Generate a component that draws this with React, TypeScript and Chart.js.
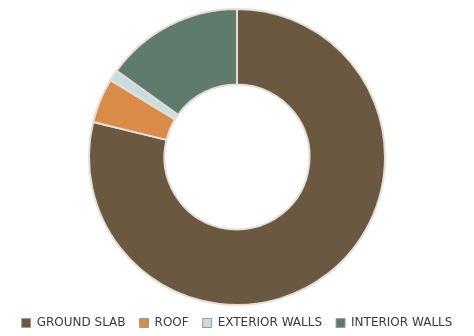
import React, { useEffect, useRef } from "react";
import { Chart, registerables } from "chart.js";

Chart.register(...registerables);

const categories = ["GROUND SLAB", "ROOF", "EXTERIOR WALLS", "INTERIOR WALLS"];
const shares = [78.8, 4.9, 1.2, 15.1];
const colors = ["#6b5840", "#db8b48", "#c9dde0", "#5e7b6c"];

export default function App() {
  const ref = useRef<HTMLCanvasElement | null>(null);

  useEffect(() => {
    document.body.style.margin = "0";
    const canvas = ref.current;
    if (!canvas) return;
    const chart = new Chart(canvas, {
      type: "doughnut",
      data: {
        labels: categories,
        datasets: [
          {
            data: shares,
            backgroundColor: colors,
            borderColor: "#e4dfd6",
            borderWidth: 2,
          },
        ],
      },
      options: {
        animation: false,
        responsive: false,
        maintainAspectRatio: false,
        radius: 148,
        cutout: "49%",
        layout: { padding: { top: 11, bottom: -3, left: 0, right: 0 } },
        plugins: {
          tooltip: { enabled: false },
          legend: {
            position: "bottom",
            labels: {
              boxWidth: 9,
              boxHeight: 9,
              padding: 14,
              color: "#3a3a3a",
              font: { family: "'DejaVu Sans', sans-serif", size: 12 },
              generateLabels: (c: any) =>
                categories.map((t, i) => ({
                  text: t,
                  fillStyle: colors[i],
                  strokeStyle: "#9a9a9a",
                  lineWidth: 1,
                  fontColor: "#3a3a3a",
                  hidden: false,
                  index: i,
                  datasetIndex: 0,
                })),
            },
          },
        },
      },
    });
    return () => chart.destroy();
  }, []);

  return (
    <div style={{ width: 474, height: 336 }}>
      <canvas ref={ref} width={474} height={336} />
    </div>
  );
}
